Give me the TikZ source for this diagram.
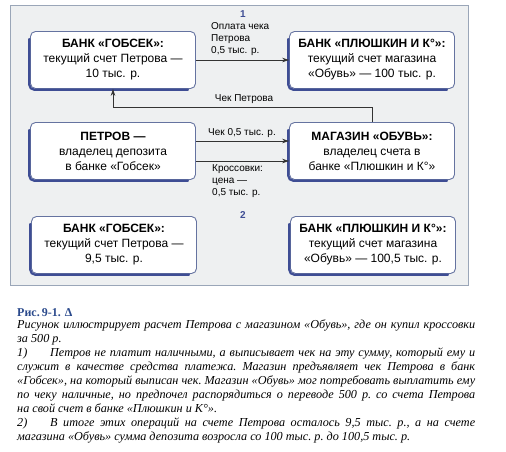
\documentclass[tikz,border=0pt]{standalone}
\usepackage{fontspec}
\setmainfont{Liberation Serif}
\setsansfont{Liberation Sans}
\usetikzlibrary{arrows.meta}

\definecolor{panelfill}{HTML}{EEF0F1}
\definecolor{panelline}{HTML}{9AA6B8}
\definecolor{boxline}{HTML}{6573A0}
\definecolor{boxshade}{HTML}{3E4D94}
\definecolor{capblue}{HTML}{2B4A8C}

\begin{document}
\begin{tikzpicture}[x=1pt, y=-1pt, font=\sffamily, >={Stealth[length=7pt,width=4.5pt]},
  acct/.style={draw=boxline, line width=0.9pt, fill=white, rounded corners=5pt, minimum width=165pt,
    minimum height=57pt, align=center, font=\sffamily\fontsize{12}{15}\selectfont},
  shade/.style={draw=boxshade, line width=2.2pt, rounded corners=5pt, line cap=round},
  flow/.style={->, draw=black!80, line width=0.6pt},
  note/.style={font=\sffamily\fontsize{10}{12}\selectfont, align=left, inner sep=0pt}]

\useasboundingbox (0,0) rectangle (506,452);

\fill[panelfill] (10,5) rectangle (468,285);
\draw[panelline, line width=0.8pt] (10,5) rectangle (468,285);

\node[font=\sffamily\bfseries, text=boxshade] (one) at (243,14) {1};
\node[font=\sffamily\bfseries, text=boxshade] (two) at (243,215) {2};

\node[acct] (gobsekA) at (113,60) {\textbf{БАНК «ГОБСЕК»:}\\текущий счет Петрова —\\10 тыс. р.};
\node[acct] (plyushA) at (372,60) {\textbf{БАНК «ПЛЮШКИН И К°»:}\\текущий счет магазина\\«Обувь» — 100 тыс. р.};
\node[acct] (petrov) at (113,151) {\textbf{ПЕТРОВ —}\\владелец депозита\\в банке «Гобсек»};
\node[acct] (shop) at (372,151) {\textbf{МАГАЗИН «ОБУВЬ»:}\\владелец счета в\\банке «Плюшкин и К°»};
\node[acct] (gobsekB) at (114,245) {\textbf{БАНК «ГОБСЕК»:}\\текущий счет Петрова —\\9,5 тыс. р.};
\node[acct] (plyushB) at (373,245) {\textbf{БАНК «ПЛЮШКИН И К°»:}\\текущий счет магазина\\«Обувь» — 100,5 тыс. р.};

\foreach \b in {gobsekA, plyushA, petrov, shop, gobsekB, plyushB}
  \draw[shade] ([shift={(-0.8pt,-8pt)}]\b.north west) -- ([shift={(-0.8pt,-0.8pt)}]\b.south west)
    -- ([shift={(-8pt,-0.8pt)}]\b.south east);

\draw[flow] (gobsekA.east) -- (plyushA.west);
\node[note, anchor=south west] (payLbl) at (211,56) {Оплата чека\\Петрова\\0,5 тыс. р.};

\draw[flow] (shop.north) -- ++(0,-15) -| (gobsekA.south);
\node[note] (chequeLbl) at (244,99) {Чек Петрова};

\draw[flow] ([yshift=10pt]petrov.east) -- ([yshift=10pt]shop.west);
\node[note] (chequeSumLbl) at (242,133) {Чек 0,5 тыс. р.};

\draw[flow] ([yshift=-10pt]petrov.east) -- ([yshift=-10pt]shop.west);
\node[note, anchor=north west] (goodsLbl) at (212,164) {Кроссовки:\\цена —\\0,5 тыс. р.};

\node[font=\rmfamily\bfseries\fontsize{12}{14}\selectfont, text=capblue, anchor=west, inner sep=0pt]
  (figNo) at (17,313) {Рис.\,9-1. Δ};

\node[font=\rmfamily\itshape\fontsize{12.2}{13.9}\selectfont, anchor=north west, text width=458pt,
  align=justify, inner sep=0pt] (caption) at (17,320)
{\parindent=0pt\frenchspacing
Рисунок иллюстрирует расчет Петрова с магазином «Обувь», где он купил кроссовки\linebreak
за 500 р.\par
\makebox[33pt][l]{1)}Петров не платит наличными, а выписывает чек на эту сумму, который ему и\linebreak
служит в качестве средства платежа. Магазин предъявляет чек Петрова в банк\linebreak
«Гобсек», на который выписан чек. Магазин «Обувь» мог потребовать выплатить ему\linebreak
по чеку наличные, но предпочел распорядиться о переводе 500 р. со счета Петрова\linebreak
на свой счет в банке «Плюшкин и К°».\par
\makebox[33pt][l]{2)}В итоге этих операций на счете Петрова осталось 9,5 тыс. р., а на счете\linebreak
магазина «Обувь» сумма депозита возросла со 100 тыс. р. до 100,5 тыс. р.};

\end{tikzpicture}
\end{document}
